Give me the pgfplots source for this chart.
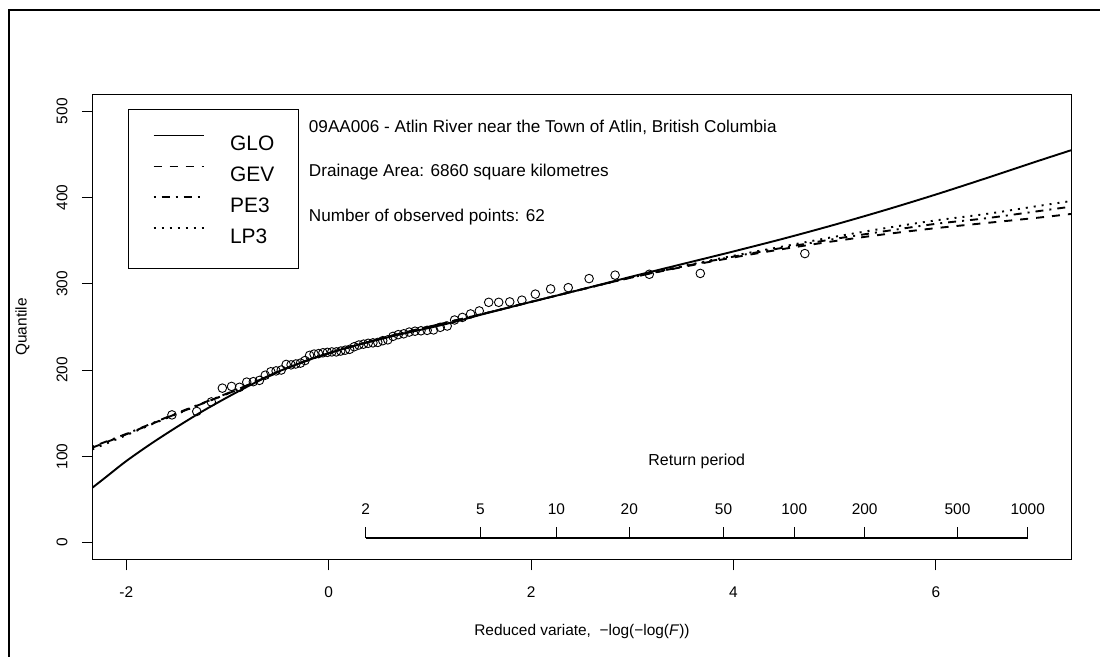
\documentclass[border=0pt]{standalone}
\usepackage{pgfplots}
\pgfplotsset{compat=1.18}
\usepackage{fontspec}
\setmainfont{Liberation Sans}
\newcommand{\sz}[1]{\fontsize{#1}{#1}\selectfont}

\pgfplotstableread{
x y
-1.549 148
-1.304 152
-1.160 163
-1.051 179
-0.960 181
-0.881 180
-0.810 186
-0.745 186.5
-0.684 188
-0.627 194
-0.572 198
-0.520 199
-0.469 200
-0.420 206.5
-0.372 206
-0.325 207
-0.279 208
-0.234 211
-0.189 217
-0.145 218.5
-0.101 219
-0.057 220
-0.013 220.5
0.031 221
0.075 221
0.119 222
0.163 223
0.207 224
0.252 227
0.298 229
0.344 230
0.390 231
0.437 231.5
0.485 232
0.534 234
0.584 235
0.635 239
0.687 241
0.741 242
0.796 244
0.853 245
0.912 245.5
0.973 246
1.036 246.5
1.102 249.5
1.171 251
1.244 258
1.321 261
1.402 265
1.488 268.5
1.581 278.5
1.680 278.5
1.789 279
1.909 281
2.042 288
2.193 294
2.367 295.5
2.573 306
2.830 310
3.168 311
3.672 312
4.705 335
}\obs

\pgfplotstableread{
x y
-2.336 63.5
-2.2 76
-2.0 94.5
-1.75 115
-1.5 134
-1.25 152
-1.0 168.5
-0.75 184
-0.5 198
-0.25 209.5
0 219.5
0.25 228
0.5 235.5
0.75 242.5
1.0 249
1.25 256
1.5 264
1.75 271.5
2.0 279
2.5 293.5
3.0 308.5
3.5 323
4.0 337.5
4.5 352.5
5.0 368.5
5.5 385.5
6.0 403.5
6.5 422.5
7.0 442
7.341 455
}\glo

\pgfplotstableread{
x y
-2.336 110
-2.0 125.5
-1.75 137.5
-1.5 149.5
-1.25 161
-1.0 172.5
-0.75 185
-0.5 198
-0.25 209.5
0 219.5
0.25 228
0.5 236
0.75 243.5
1.0 250.5
1.5 264.5
2.0 279
2.5 293.5
3.0 307.5
3.5 319.5
4.0 330.5
4.5 340.5
5.0 349.5
5.5 357.5
6.0 364.5
6.5 370.5
7.0 376.5
7.341 381
}\gev

\pgfplotstableread{
x y
-2.336 111
-2.0 126
-1.75 138
-1.5 150
-1.25 161.5
-1.0 173
-0.75 185
-0.5 198
-0.25 209.5
0 219.5
0.25 228
0.5 236
0.75 243.5
1.0 250.5
1.5 264.5
2.0 279
2.5 293.5
3.0 307.5
3.5 320
4.0 331.5
4.5 342
5.0 352
5.5 361
6.0 369.5
6.5 376
7.0 384
7.341 389.5
}\pethree

\pgfplotstableread{
x y
-2.336 108
-2.0 124.5
-1.75 137
-1.5 149
-1.25 161
-1.0 172.5
-0.75 185
-0.5 198
-0.25 209.5
0 219.5
0.25 228
0.5 236
0.75 243.5
1.0 250.5
1.5 264.5
2.0 279
2.5 293.5
3.0 307.5
3.5 320.5
4.0 332.5
4.5 343.5
5.0 354.5
5.5 364.5
6.0 373.5
6.5 381
7.0 390
7.341 396
}\lpthree

\begin{document}
\begin{tikzpicture}
\useasboundingbox (0,0) rectangle (1100bp,657bp);
\begin{axis}[
  at={(92.3bp,97.2bp)}, anchor=south west,
  scale only axis, width=979.3bp, height=465.8bp,
  xmin=-2.336, xmax=7.341, ymin=-20, ymax=520,
  axis line style={line width=1bp},
  tick pos=left, tick align=outside, major tick length=10.5bp,
  tick style={line width=1bp, black},
  xtick={-2,0,2,4,6}, xticklabels={-2,0,2,4,6},
  ytick={0,100,200,300,400,500}, yticklabels={0,100,200,300,400,500},
  /pgf/number format/assume math mode=true,
  tick label style={font=\sz{15.5}},
  xticklabel style={anchor=center, yshift=-21.5bp},
  yticklabel style={xshift=-19.7bp, rotate=90, anchor=center},
  xlabel={Reduced variate,\ \ −log(−log(\textit{F}))},
  ylabel={Quantile},
  xlabel style={at={(axis description cs:0.5,-0.155)}, anchor=center, font=\sz{15.5}},
  ylabel style={at={(axis description cs:-0.0713,0.5)}, anchor=center, font=\sz{15.5}},
  legend style={at={(axis description cs:0.03676,0.9672)}, anchor=north west,
    draw=black, line width=1bp, fill=white, inner xsep=24bp, inner ysep=24.8bp,
    font=\sz{21}, row sep=14.9bp, column sep=25.4bp, cells={anchor=west},
    nodes={inner sep=0pt, text height=15.1bp, text depth=0pt}},
  legend image code/.code={\draw[#1] (0bp,7.55bp) -- (50bp,7.55bp); \path (0bp,0bp);},
]
\addplot[black, line width=1.9bp, smooth] table {\glo};
\addlegendentry{GLO}
\addplot[black, line width=1.9bp, smooth, dash pattern=on 8bp off 8bp] table {\gev};
\addlegendentry{GEV}
\addplot[black, line width=1.9bp, smooth, dash pattern=on 2bp off 6bp on 8bp off 6bp] table {\pethree};
\addlegendentry{PE3}
\addplot[black, line width=1.9bp, smooth, dash pattern=on 2bp off 6bp] table {\lpthree};
\addlegendentry{LP3}
\addplot[only marks, mark=o, mark size=4.3bp, mark options={line width=0.9bp, black}, forget plot] table {\obs};
% return period axis
\addplot[black, line width=1.9bp, forget plot] coordinates {(0.3665,5.6) (6.9073,5.6)};
\addplot[black, line width=1bp, forget plot, unbounded coords=jump] coordinates {
(0.3665,5.6) (0.3665,17.6) (0.3665,nan)
(1.4999,5.6) (1.4999,17.6) (1.4999,nan)
(2.2504,5.6) (2.2504,17.6) (2.2504,nan)
(2.9702,5.6) (2.9702,17.6) (2.9702,nan)
(3.9019,5.6) (3.9019,17.6) (3.9019,nan)
(4.6001,5.6) (4.6001,17.6) (4.6001,nan)
(5.2958,5.6) (5.2958,17.6) (5.2958,nan)
(6.2136,5.6) (6.2136,17.6) (6.2136,nan)
(6.9073,5.6) (6.9073,17.6)};
\begin{scope}[every node/.style={font=\sz{15.5}, inner sep=0pt, anchor=base}]
\node at (axis cs:0.3665,32.3) {2};
\node at (axis cs:1.4999,32.3) {5};
\node at (axis cs:2.2504,32.3) {10};
\node at (axis cs:2.9702,32.3) {20};
\node at (axis cs:3.9019,32.3) {50};
\node at (axis cs:4.6001,32.3) {100};
\node at (axis cs:5.2958,32.3) {200};
\node at (axis cs:6.2136,32.3) {500};
\node at (axis cs:6.9073,32.3) {1000};
\node[font=\sz{16}] at (axis cs:3.637,88.8) {Return period};
\end{scope}
\begin{scope}[every node/.style={font=\sz{17.2}, inner sep=0pt, anchor=base west}]
\node at (axis cs:-0.197,475.7) {09AA006 - Atlin River near the Town of Atlin, British Columbia};
\node at (axis cs:-0.197,424.0) {Drainage Area: 6860 square kilometres};
\node at (axis cs:-0.197,372.1) {Number of observed points: 62};
\end{scope}
\end{axis}
\draw[line width=2.6bp] (9bp,0bp) -- (9bp,647bp) -- (1100bp,647bp);
\end{tikzpicture}
\end{document}
